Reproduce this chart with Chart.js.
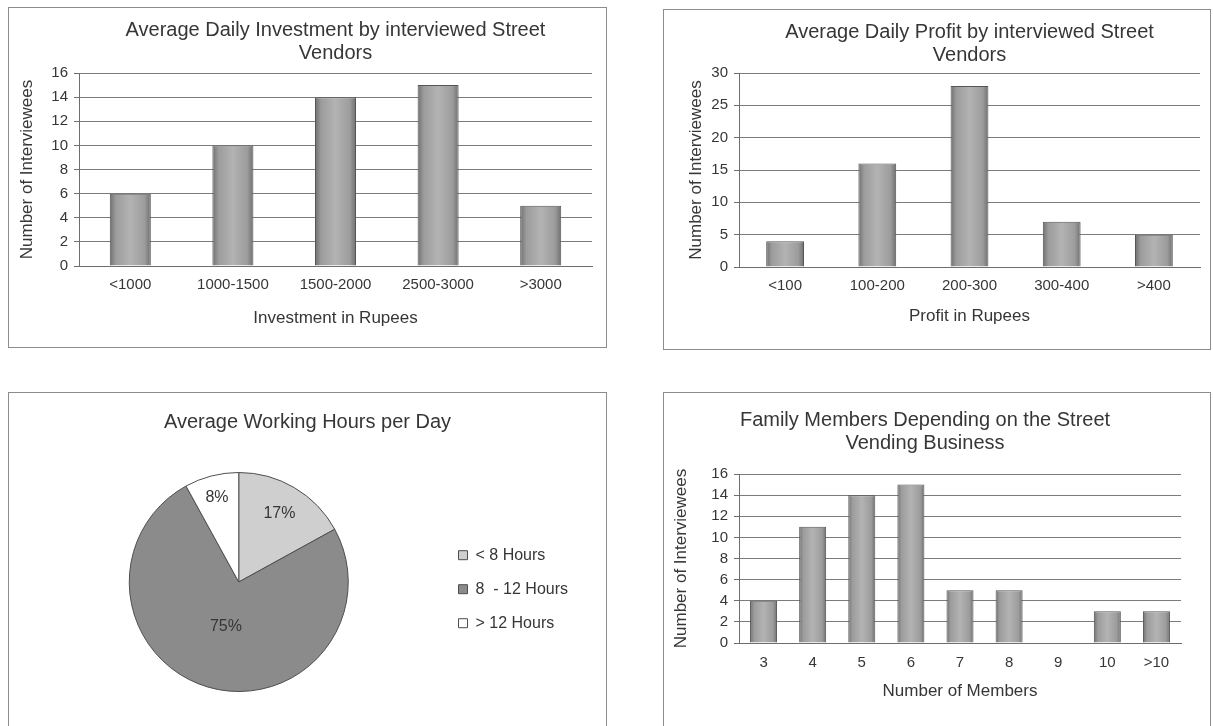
<!DOCTYPE html>
<html>
<head>
<meta charset="utf-8">
<script src="https://cdn.jsdelivr.net/npm/chart.js@4.4.1/dist/chart.umd.min.js"></script>
<style>
  body { margin: 0; width: 1213px; height: 726px; background: #fff; overflow: hidden; position: relative; }
  .panel { position: absolute; border: 1px solid #8c8c8c; background: #fff; }
  .panel canvas { display: block; }
</style>
</head>
<body>
<div class="panel" style="left:8px;top:7px"><canvas id="invest" width="597" height="339"></canvas></div>
<div class="panel" style="left:663px;top:9px"><canvas id="profit" width="546" height="339"></canvas></div>
<div class="panel" style="left:8px;top:392px"><canvas id="hours" width="597" height="340"></canvas></div>
<div class="panel" style="left:663px;top:392px"><canvas id="members" width="546" height="340"></canvas></div>
<script>
  // values
  const investLabels = ['<1000', '1000-1500', '1500-2000', '2500-3000', '>3000'];
  const investCounts = [6, 10, 14, 15, 5];

  const profitLabels = ['<100', '100-200', '200-300', '300-400', '>400'];
  const profitCounts = [4, 16, 28, 7, 5];

  const hoursLabels = ['< 8 Hours', '8  - 12 Hours', '> 12 Hours'];
  const hoursShare = [17, 75, 8];

  const memberLabels = ['3', '4', '5', '6', '7', '8', '9', '10', '>10'];
  const memberCounts = [4, 11, 14, 15, 5, 5, 0, 3, 3];

  const FONT = "'Liberation Sans', Arial, sans-serif";
  const INK = '#363636';
  const GRID = '#7c7c7c';
  const AXIS = '#6e6e6e';

  // cylinder-ish grey shading across each bar
  function barFill(pct) {
    return function (ctx) {
      const chart = ctx.chart;
      const x = chart.scales.x;
      if (!x || ctx.dataIndex === undefined) return '#a8a8a8';
      const cx = x.getPixelForValue(ctx.dataIndex);
      const hw = x.width / chart.data.labels.length * pct / 2;
      if (!isFinite(cx) || !isFinite(hw) || hw < 1) return '#a8a8a8';
      const g = chart.ctx.createLinearGradient(cx - hw, 0, cx + hw, 0);
      g.addColorStop(0, '#6f6f6f');
      g.addColorStop(0.15, '#9c9c9c');
      g.addColorStop(0.5, '#b3b3b3');
      g.addColorStop(0.85, '#9c9c9c');
      g.addColorStop(1, '#6f6f6f');
      return g;
    };
  }

  function barChart(id, labels, values, o) {
    return new Chart(document.getElementById(id), {
      type: 'bar',
      data: {
        labels: labels,
        datasets: [{
          data: values,
          backgroundColor: barFill(o.pct),
          borderColor: '#555',
          borderWidth: 1,
          borderSkipped: 'bottom',
          categoryPercentage: 1,
          barPercentage: o.pct
        }]
      },
      options: {
        responsive: false,
        animation: false,
        layout: { padding: o.pad },
        plugins: {
          legend: { display: false },
          tooltip: { enabled: false },
          title: {
            display: true,
            text: o.title,
            fullSize: o.fullTitle,
            color: INK,
            font: { family: FONT, size: 20, weight: 'normal', lineHeight: 1.15 },
            padding: o.titlePad
          }
        },
        scales: {
          x: {
            grid: { display: false, drawTicks: false },
            border: { color: AXIS },
            ticks: { color: INK, font: { family: FONT, size: 15 }, padding: o.xTickPad, maxRotation: 0, autoSkip: false },
            title: { display: true, text: o.xTitle, color: INK, font: { family: FONT, size: 17 }, padding: { top: 0, bottom: o.xTitlePad } },
            afterFit: function (s) { s.height = o.xH; }
          },
          y: {
            min: 0,
            max: o.max,
            ticks: { stepSize: o.step, color: INK, font: { family: FONT, size: 15 }, padding: 6 },
            grid: { color: GRID, tickLength: 5, tickColor: AXIS },
            border: { color: AXIS },
            title: { display: true, text: 'Number of Interviewees', color: INK, font: { family: FONT, size: 17 }, padding: { top: 2, bottom: 0 } },
            afterFit: function (s) { s.width = o.yW; }
          }
        }
      }
    });
  }

  barChart('invest', investLabels, investCounts, {
    pct: 0.4, max: 16, step: 2,
    title: ['Average Daily Investment by interviewed Street', 'Vendors'],
    fullTitle: false, titlePad: { top: 11, bottom: 8 },
    xTitle: 'Investment in Rupees',
    pad: { left: 6, right: 14, top: 0, bottom: 15 },
    yW: 64, xH: 66, xTickPad: 10, xTitlePad: 3
  });

  barChart('profit', profitLabels, profitCounts, {
    pct: 0.41, max: 30, step: 5,
    title: ['Average Daily Profit by interviewed Street', 'Vendors'],
    fullTitle: false, titlePad: { top: 11, bottom: 6 },
    xTitle: 'Profit in Rupees',
    pad: { left: 20, right: 10, top: 0, bottom: 16 },
    yW: 55, xH: 66, xTickPad: 10, xTitlePad: 6
  });

  barChart('members', memberLabels, memberCounts, {
    pct: 0.55, max: 16, step: 2,
    title: ['Family Members Depending on the Street', 'Vending Business'],
    fullTitle: true, titlePad: { top: 16, bottom: 19 },
    xTitle: 'Number of Members',
    pad: { left: 5, right: 29, top: 0, bottom: 28 },
    yW: 70, xH: 62, xTickPad: 11, xTitlePad: 3
  });

  // percentage labels inside the pie slices
  const sliceLabels = {
    id: 'sliceLabels',
    afterDatasetsDraw(chart, args, opts) {
      const meta = chart.getDatasetMeta(0);
      const c = chart.ctx;
      c.save();
      c.font = '16px ' + FONT;
      c.fillStyle = INK;
      c.textAlign = 'center';
      c.textBaseline = 'middle';
      meta.data.forEach(function (arc, i) {
        const p = arc.getProps(['x', 'y', 'startAngle', 'endAngle', 'outerRadius'], true);
        const mid = (p.startAngle + p.endAngle) / 2;
        const r = p.outerRadius * opts.radial[i];
        c.fillText(chart.data.datasets[0].data[i] + '%', p.x + Math.cos(mid) * r, p.y + Math.sin(mid) * r);
      });
      c.restore();
    }
  };

  new Chart(document.getElementById('hours'), {
    type: 'pie',
    data: {
      labels: hoursLabels,
      datasets: [{
        data: hoursShare,
        backgroundColor: ['#cfcfcf', '#8b8b8b', '#ffffff'],
        borderColor: '#4e4e4e',
        borderWidth: 1
      }]
    },
    plugins: [sliceLabels],
    options: {
      responsive: false,
      animation: false,
      layout: { padding: { left: 28, right: 28, top: 0, bottom: 41 } },
      plugins: {
        tooltip: { enabled: false },
        title: {
          display: true,
          text: 'Average Working Hours per Day',
          color: INK,
          font: { family: FONT, size: 20, weight: 'normal', lineHeight: 1.15 },
          padding: { top: 18, bottom: 38 }
        },
        legend: {
          position: 'right',
          fullSize: false,
          title: { display: true, text: ' ', padding: 0, font: { family: FONT, size: 12 } },
          labels: {
            color: INK,
            font: { family: FONT, size: 16 },
            boxWidth: 9,
            boxHeight: 9,
            padding: 18
          }
        },
        sliceLabels: { radial: [0.73, 0.42, 0.8] }
      }
    }
  });
</script>
</body>
</html>
